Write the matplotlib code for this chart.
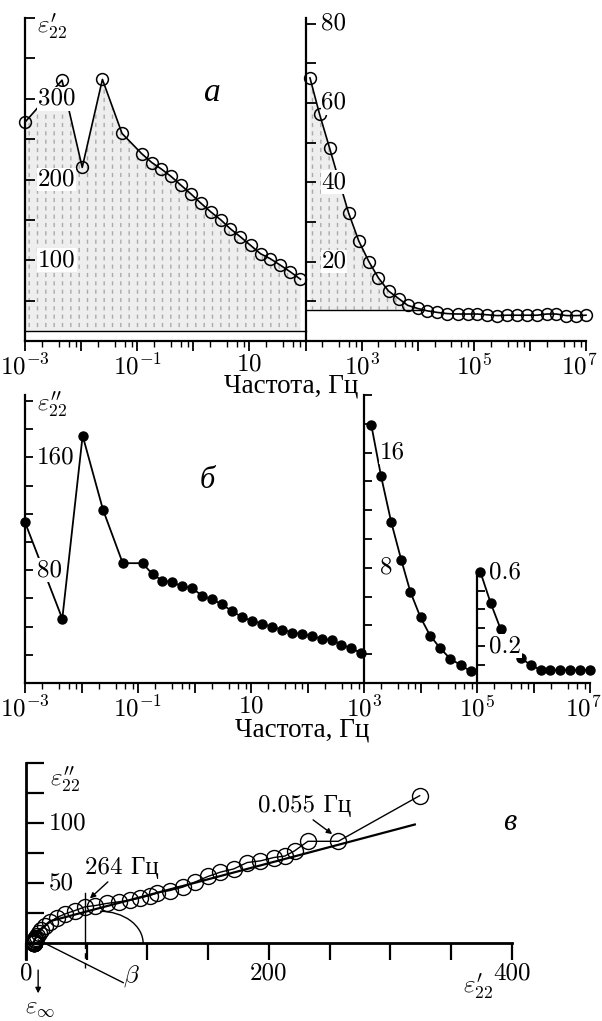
import numpy as np
import matplotlib
matplotlib.use("Agg")
import matplotlib.pyplot as plt
from matplotlib.ticker import FixedLocator, FixedFormatter, LogLocator, NullFormatter
from matplotlib.patches import Arc
from matplotlib.transforms import offset_copy, ScaledTranslation

plt.rcParams['mathtext.fontset'] = 'cm'
plt.rcParams['font.family'] = ['cmr10', 'Liberation Serif', 'DejaVu Serif']
plt.rcParams['axes.unicode_minus'] = False

# ---------------- data ----------------
log_freq = [-3.0, -2.34, -1.98, -1.62, -1.27, -0.92, -0.74, -0.57, -0.40, -0.22,
            -0.04, 0.13, 0.31, 0.49, 0.66, 0.84, 1.02, 1.20, 1.37, 1.55,
            1.73, 1.91, 2.08, 2.25, 2.43, 2.60, 2.77, 2.95, 3.13, 3.30,
            3.48, 3.66, 3.82, 4.00, 4.17, 4.35, 4.53, 4.71, 4.89, 5.06,
            5.24, 5.42, 5.59, 5.77, 5.95, 6.13, 6.30, 6.47, 6.65, 6.83, 7.0]

eps_real = [271, 323, 215, 324, 257, 232, 221, 213, 204, 193,
            182, 171, 160, 150, 139, 129, 118.5, 108, 102, 94,
            85.6, 76.5,
            66.3, 57.2, 48.6, 40.3, 32.2, 25.2, 20.0, 15.9, 12.6, 10.7,
            9.0, 8.2, 7.6, 7.2, 6.9, 6.8, 6.8, 6.8, 6.6, 6.4,
            6.5, 6.5, 6.5, 6.5, 6.8, 6.8, 6.4, 6.4, 6.5]

eps_imag = [114, 45.6, 175.5, 123, 85, 85, 77, 72.7, 71.5, 68.7,
            67.3, 62, 59.3, 55.8, 51, 46.8, 44, 42.1, 39.8, 37.9,
            35.8, 34.6, 33.2, 31.5, 30.4, 27.3, 24.5, 21.4,
            17.9, 14.4, 11.2, 8.54, 6.34, 4.56, 3.29, 2.41, 1.67, 1.25, 0.81,
            0.60, 0.434, 0.29, 0.21, 0.137, 0.097, 0.07, 0.07, 0.07, 0.07, 0.07, 0.07]

split_a = 22            # eps' : first 22 points on the left scale
split_b = (28, 39)      # eps'': three scales
baseline_a_left = 12
baseline_a_right = 7.9
first_cole_point = 3    # panel c starts at 0.025 Hz
mark_264 = 24           # index of 264 Hz
mark_0055 = 4           # index of 0.055 Hz

fit_line_x = [6, 10, 20, 320]
fit_line_y = [0, 10, 18.5, 99]

xtick_exp = list(range(-3, 8))
xtick_labels = ['$10^{-3}$', '', '$10^{-1}$', '', '$10$', '', '$10^{3}$', '',
                '$10^{5}$', '', '$10^{7}$']

# ---------------- helpers ----------------
W, H = 602, 1021
fig = plt.figure(figsize=(W / 100, H / 100), dpi=100)
FS = 18
LW_SP = 1.6


def box(l, t, r, b):
    return [l / W, 1 - b / H, (r - l) / W, (b - t) / H]


def fpos(x, y):
    return (x / W, 1 - y / H)


def ylabels_inside(ax, x_spine, values, texts, pad_pt):
    tr = offset_copy(ax.transData, fig=fig, x=pad_pt, y=0, units='points')
    for v, t in zip(values, texts):
        ax.text(x_spine, v, t, transform=tr, ha='left', va='center', fontsize=FS,
                zorder=6, bbox=dict(facecolor='white', edgecolor='none', pad=0.6))


def style_xlog(ax):
    ax.set_xscale('log')
    ax.set_xlim(1e-3, 1e7)
    ax.xaxis.set_major_locator(FixedLocator([10.0 ** k for k in xtick_exp]))
    ax.xaxis.set_major_formatter(FixedFormatter(xtick_labels))
    ax.xaxis.set_minor_locator(LogLocator(base=10, subs=(2, 4, 6, 8), numticks=60))
    ax.xaxis.set_minor_formatter(NullFormatter())
    ax.tick_params(axis='x', which='major', direction='out', length=7, width=1.3,
                   labelsize=FS, pad=2)
    ax.tick_params(axis='x', which='minor', direction='out', length=4, width=1.0)
    labs = ax.get_xticklabels()
    last = labs[-1]
    last.set_transform(last.get_transform() + ScaledTranslation(-0.07, 0, fig.dpi_scale_trans))


def yticks_in(ax, ticks, length=6):
    ax.yaxis.set_major_locator(FixedLocator(ticks))
    ax.yaxis.set_minor_locator(FixedLocator([]))
    ax.tick_params(axis='y', which='both', direction='in', length=length, width=1.3,
                   labelleft=False, labelright=False)


lf = np.array(log_freq)
fr = 10 ** lf
er = np.array(eps_real)
ei = np.array(eps_imag)

# ================= panel a =================
axA = fig.add_axes(box(25, 18, 586, 341))
style_xlog(axA)
axA.set_ylim(0, 400)
for s in ('top', 'right'):
    axA.spines[s].set_visible(False)
for s in ('left', 'bottom'):
    axA.spines[s].set_linewidth(LW_SP)
yticks_in(axA, np.arange(0, 401, 50), 7)

axA2 = axA.twinx()
axA2.set_ylim(0, 81.4)
axA2.yaxis.set_ticks_position('left')
for s in ('top', 'right', 'bottom'):
    axA2.spines[s].set_visible(False)
axA2.spines['left'].set_visible(True)
axA2.spines['left'].set_position(('data', 1e2))
axA2.spines['left'].set_linewidth(LW_SP)
yticks_in(axA2, np.arange(0, 81, 10), 7)

SH_FACE = '#eeeeee'
SH_LINE = '#aaaaaa'

# shading (left)
fl, el = fr[:split_a], er[:split_a]
axA.fill_between(fl, baseline_a_left, el, facecolor=SH_FACE, edgecolor='none', zorder=0.2)
with plt.rc_context({'hatch.linewidth': 1.0}):
    axA.fill_between(fl, baseline_a_left, el, facecolor='none', edgecolor=SH_LINE,
                     hatch='||', linewidth=0, zorder=0.3)
with plt.rc_context({'hatch.linewidth': 3.0}):
    axA.fill_between(fl, baseline_a_left, el, facecolor='none', edgecolor=SH_FACE,
                     hatch='--', linewidth=0, zorder=0.4)
axA.plot([1e-3, 1e2], [baseline_a_left] * 2, color='k', lw=1.0, zorder=1)

# shading (right)
frr, err = fr[split_a:], er[split_a:]
above = np.where(err > baseline_a_right)[0]
i = above[-1]
x_cross = 10 ** np.interp(baseline_a_right, [err[i + 1], err[i]],
                          [np.log10(frr[i + 1]), np.log10(frr[i])])
mask = err >= baseline_a_right
axA2.fill_between(frr, baseline_a_right, err, where=mask, interpolate=True,
                  facecolor=SH_FACE, edgecolor='none', zorder=0.2)
with plt.rc_context({'hatch.linewidth': 1.0}):
    axA2.fill_between(frr, baseline_a_right, err, where=mask, interpolate=True,
                      facecolor='none', edgecolor=SH_LINE, hatch='||', linewidth=0, zorder=0.3)
with plt.rc_context({'hatch.linewidth': 3.0}):
    axA2.fill_between(frr, baseline_a_right, err, where=mask, interpolate=True,
                      facecolor='none', edgecolor=SH_FACE, hatch='--', linewidth=0, zorder=0.4)
axA2.plot([1e2, x_cross], [baseline_a_right] * 2, color='k', lw=1.0, zorder=1)

axA.plot(fl, el, '-o', color='k', lw=1.2, ms=8.5, mfc='none', mec='k', mew=1.1,
         clip_on=False, zorder=3)
axA2.plot(frr, err, '-o', color='k', lw=1.2, ms=8.5, mfc='none', mec='k', mew=1.1,
          clip_on=False, zorder=3)

ylabels_inside(axA, 1e-3, [100, 200, 300], ['100', '200', '300'], 9.5)
ylabels_inside(axA2, 1e2, [20, 40, 60, 80], ['20', '40', '60', '80'], 11.5)

fig.text(*fpos(37, 27), r"$\varepsilon^{\prime}_{22}$", fontsize=FS, ha='left', va='center')
fig.text(*fpos(212, 93), 'а', fontsize=24, ha='center', va='center',
         family=['Liberation Serif'], style='italic')
fig.text(*fpos(291, 386), 'Частота, Гц', fontsize=19.5, ha='center', va='center',
         family=['Liberation Serif'])

# ================= panel b =================
axB = fig.add_axes(box(25, 395, 590, 683))
style_xlog(axB)
axB.set_ylim(0, 204.3)
for s in ('top', 'right'):
    axB.spines[s].set_visible(False)
for s in ('left', 'bottom'):
    axB.spines[s].set_linewidth(LW_SP)
yticks_in(axB, np.arange(0, 201, 20), 6)

axB2 = axB.twinx()
axB2.set_ylim(0, 20)
axB2.yaxis.set_ticks_position('left')
for s in ('top', 'right', 'bottom'):
    axB2.spines[s].set_visible(False)
axB2.spines['left'].set_visible(True)
axB2.spines['left'].set_position(('data', 1e3))
axB2.spines['left'].set_linewidth(LW_SP)
yticks_in(axB2, np.arange(0, 21, 2), 6)

axB3 = axB.twinx()
axB3.set_ylim(0, 1.557)
axB3.yaxis.set_ticks_position('left')
for s in ('top', 'right', 'bottom'):
    axB3.spines[s].set_visible(False)
axB3.spines['left'].set_visible(True)
axB3.spines['left'].set_position(('data', 1e5))
axB3.spines['left'].set_bounds(0, 0.6)
axB3.spines['left'].set_linewidth(LW_SP)
yticks_in(axB3, np.round(np.arange(0, 0.61, 0.1), 1), 6)

s1, s2 = split_b
dot = dict(color='k', lw=1.3, marker='o', ms=6.5, mfc='k', mec='k', clip_on=False, zorder=3)
axB.plot(fr[:s1], ei[:s1], **dot)
axB2.plot(fr[s1:s2], ei[s1:s2], **dot)
axB3.plot(fr[s2:], ei[s2:], **dot)

ylabels_inside(axB, 1e-3, [80, 160], ['80', '160'], 8.5)
ylabels_inside(axB2, 1e3, [8, 16], ['8', '16'], 11.5)
ylabels_inside(axB3, 1e5, [0.2, 0.6], ['0.2', '0.6'], 8.5)

fig.text(*fpos(37, 405), r"$\varepsilon^{\prime\prime}_{22}$", fontsize=FS, ha='left', va='center')
fig.text(*fpos(207, 480), 'б', fontsize=22, ha='center', va='center',
         family=['Liberation Serif'], style='italic')
fig.text(*fpos(302, 730), 'Частота, Гц', fontsize=19.5, ha='center', va='center',
         family=['Liberation Serif'])

# ================= panel c =================
axC = fig.add_axes(box(1.7, 763.3, 536.3, 1015.3))
axC.set_xlim(-20, 420)
axC.set_ylim(-60, 150)
axC.patch.set_visible(False)
for s in ('top', 'right'):
    axC.spines[s].set_visible(False)
axC.spines['left'].set_position(('data', 0))
axC.spines['bottom'].set_position(('data', 0))
axC.spines['left'].set_bounds(-13, 150)
axC.spines['bottom'].set_bounds(0, 400)
axC.spines['left'].set_linewidth(2.0)
axC.spines['bottom'].set_linewidth(2.0)
axC.xaxis.set_major_locator(FixedLocator(np.arange(0, 401, 50)))
axC.xaxis.set_major_formatter(FixedFormatter(['0', '', '', '', '200', '', '', '', '400']))
axC.tick_params(axis='x', direction='out', length=12, width=1.6, labelsize=FS, pad=2)
axC.yaxis.set_major_locator(FixedLocator(np.arange(0, 151, 25)))
axC.tick_params(axis='y', direction='in', length=13, width=1.6, labelleft=False)
ylabels_inside(axC, 0, [50, 100], ['50', '100'], 16.5)

k0 = first_cole_point
axC.plot(er[k0:], ei[k0:], '-o', color='k', lw=1.0, ms=11.5, mfc='none', mec='k',
         mew=1.0, zorder=3)
axC.plot(fit_line_x, fit_line_y, color='k', lw=1.6, zorder=4)

x264 = er[mark_264]
axC.plot([x264, x264], [0, 42], color='k', lw=1.0)
axC.plot([x264, x264], [0, -22], color='k', lw=1.0, ls=(0, (4, 3)), clip_on=False)
axC.add_patch(Arc((61, 0), 70.8, 53.3, theta1=0, theta2=90, color='k', lw=1.0))
axC.plot([10, 80], [2.8, -32.8], color='k', lw=1.0, clip_on=False)
axC.text(87, -27, r'$\beta$', fontsize=FS, ha='center', va='center')
axC.annotate('', xy=(10, -44), xytext=(10, -20),
             arrowprops=dict(arrowstyle='-|>', color='k', lw=1.0, mutation_scale=8),
             annotation_clip=False)
axC.text(11.5, -54, r'$\varepsilon_{\infty}$', fontsize=FS, ha='center', va='center')

axC.annotate('264 Гц', xy=(er[mark_264] + 4, ei[mark_264] + 7), xytext=(48.6, 62.7),
             ha='left', va='center', fontsize=FS,
             arrowprops=dict(arrowstyle='-|>', color='k', lw=1.0, mutation_scale=8,
                             shrinkA=0, shrinkB=0, relpos=(0.35, 0.0)))
axC.annotate('0.055 Гц', xy=(er[mark_0055] - 5, ei[mark_0055] + 6), xytext=(191, 114.4),
             ha='left', va='center', fontsize=FS,
             arrowprops=dict(arrowstyle='-|>', color='k', lw=1.0, mutation_scale=8,
                             shrinkA=0, shrinkB=0, relpos=(0.55, 0.0)))

axC.text(19.8, 136, r"$\varepsilon^{\prime\prime}_{22}$", fontsize=FS, ha='left', va='center')
axC.text(372, -36.4, r"$\varepsilon^{\prime}_{22}$", fontsize=FS, ha='center', va='center')
axC.text(398, 100.3, 'в', fontsize=22, ha='center', va='center',
         family=['Liberation Serif'], style='italic')

fig.savefig('out.png', dpi=100)
